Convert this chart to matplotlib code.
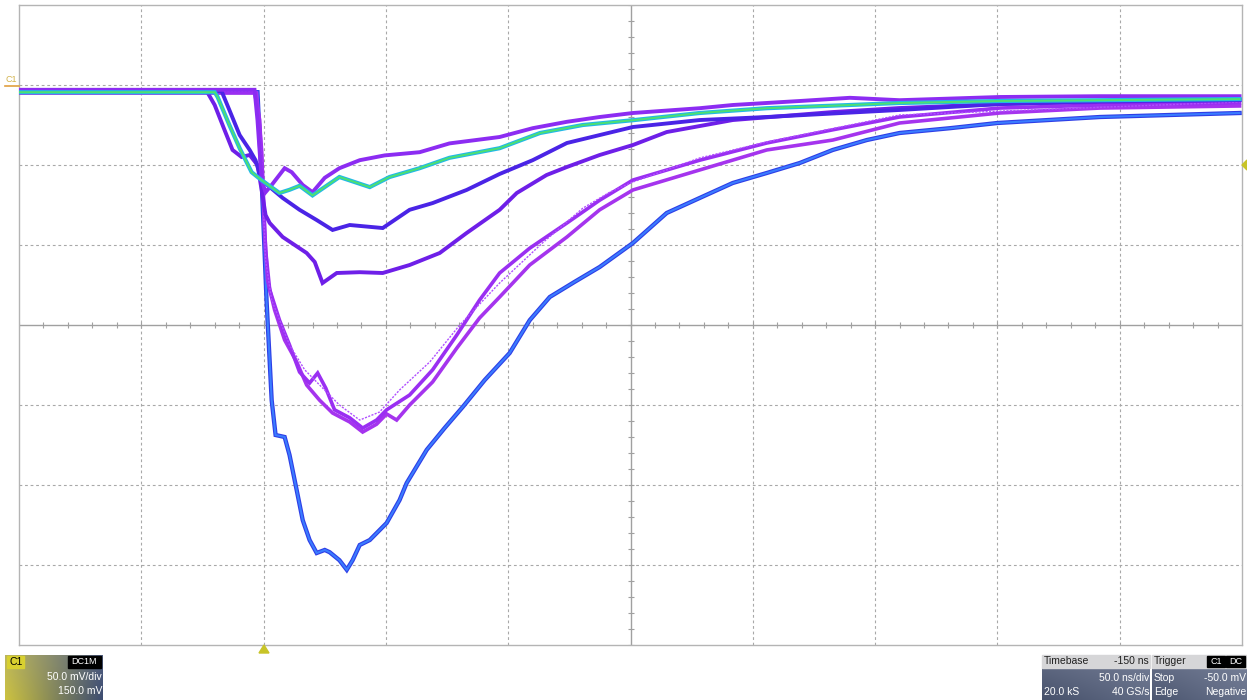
import numpy as np
import matplotlib.pyplot as plt
from matplotlib.patches import Rectangle, Polygon

plt.rcParams['font.family'] = ['Liberation Sans', 'DejaVu Sans']

# --- traces: time in ns (trigger at 0), amplitude in mV ---
t_a = [-100, -3.7, -2.5, -0.8, 0.8, 3.3, 8.6, 11.5, 16, 20, 25, 31, 39.3, 49.5, 63.8, 76, 86.3, 96.5,
       110, 124, 137.4, 151, 178.3, 191.8, 219.2, 239.7, 260, 301, 342, 399]
v_a = [-3, -3, -22, -59.5, -67, -62.5, -52, -54.5, -62.5, -67, -58, -52, -47, -44, -42, -36.5, -34.5, -32.5,
       -27, -23, -20, -17.5, -14.5, -12.5, -10, -8, -9.5, -7.5, -7, -7]

t_b = [-100, -20, -18.8, -14, -9.8, -4.9, -0.8, 6.5, 10.6, 14.7, 20, 31, 43.4, 51.5, 63.8, 76, 96.5,
       113, 130.5, 151, 178.3, 205.7, 239.7, 260, 301, 342, 399]
v_b = [-4.5, -4.5, -7.5, -25, -39.5, -54.5, -59.5, -67.5, -65.5, -63, -69, -57.5, -63.8, -57.5, -52, -45.5, -39.5,
       -30, -25, -22, -17.5, -14.5, -12.5, -11.25, -10, -9.5, -8.8]

t_c = [-100, -17.2, -14, -9.8, -5.7, -3.3, -0.8, 7.8, 14.7, 21.7, 28.2, 35.2, 48.7, 59.7, 69.1, 83, 96.5,
       110, 124, 151, 178.3, 205.7, 260, 301, 342, 399]
v_c = [-3.8, -3.8, -15.6, -31.25, -40.6, -47, -59.5, -70.6, -78, -84.4, -90.6, -87.5, -89.4, -78, -73.8, -65.6, -55.6,
       -47, -36.25, -26.25, -21.9, -20, -15.6, -11.9, -10, -9.4]

t_d = [-100, -23, -20, -16, -12.7, -9, -5.7, -2.5, -0.8, 0.8, 2.5, 7.8, 12.7, 17.6, 20.9, 24.1, 29.9, 39.3,
       48.7, 59.7, 72, 83, 96.5, 103.5, 115.7, 124, 137.4, 151, 164.8, 191.8, 232.7, 260, 301, 342, 399]
v_d = [-4.5, -4.5, -12.5, -28, -40.6, -45, -43.75, -50, -65.6, -81.25, -86.25, -95, -100, -105, -110.6, -123.75,
       -117.5, -117, -117.5, -112.5, -105, -92.5, -78, -67.5, -56.25, -51.25, -43.75, -37.5, -29.4, -21.9, -16.9,
       -14.4, -11.9, -10.6, -9.4]

t_e = [-100, -3.7, -1.6, -0.4, 0.8, 2.5, 6.5, 10.6, 14.7, 18.8, 22.1, 25.4, 29, 35.2, 40.5, 46.2, 50.3, 59.7,
       69.1, 79, 88.3, 96.5, 108.8, 124, 137.4, 151, 178.3, 205.7, 232.7, 260, 301, 342, 399]
v_e = [-4.5, -4.5, -21.9, -59.4, -103, -128, -147, -162.5, -179.4, -186.25, -180, -189.4, -203, -208, -214.4,
       -209.4, -203, -193.75, -178, -156.25, -134.4, -117.5, -102, -86.25, -72, -59.4, -47, -36.25, -28, -20,
       -14.4, -12.5, -11.25]

t_f = [-100, -2.9, -0.8, 0.4, 1.6, 4.5, 8.6, 13.5, 17.6, 22.9, 28.2, 35.2, 40.5, 46.2, 50.3, 54.4, 59.7, 69.1,
       79, 88.3, 96.5, 108.8, 124, 137.4, 151, 178.3, 205.7, 232.7, 260, 301, 342, 399]
v_f = [-5, -5, -40.6, -90.6, -122, -140.6, -159.4, -173, -187.5, -197, -205, -210.6, -216.9, -212, -205.6,
       -209.4, -200, -185.6, -164.4, -145.6, -132.5, -112.5, -95, -78, -65.6, -53.1, -40.6, -34.4, -23.75,
       -17.5, -14.4, -13.1]

t_g = [-100, -3.3, -0.8, 0.8, 3.3, 10.6, 16.8, 22.9, 31, 39.3, 47.4, 55.6, 68, 80.2, 96.5, 114, 130.5, 141.5,
       151, 178.3, 205.7, 260, 399]
v_g = [-3.8, -3.8, -47, -109.4, -134.4, -162.5, -178, -187.5, -200, -209.4, -204.4, -190.6, -173, -150,
       -123.75, -98.75, -77, -67, -60.6, -45.6, -35.6, -18.75, -10.6]

t_h = [-100, -2.5, -0.8, 1.2, 3.3, 4.9, 8.6, 10.6, 13.5, 16, 18.8, 21.7, 25, 27, 31, 34, 36.4, 39.3, 43.4,
       50.3, 55.6, 58.5, 66.7, 74, 81.4, 90.4, 100.6, 108.8, 117, 127.2, 137.4, 151, 164.8, 178.3, 191.8,
       205.7, 219.2, 232.7, 246.6, 260, 280.6, 300, 342, 399]
v_h = [-4.5, -4.5, -59.4, -134.4, -197, -218.75, -220, -231.25, -253, -272, -284.4, -292.5, -290.6, -292,
       -297, -303, -297, -287.5, -284.4, -273.75, -259.4, -248.75, -228, -214.4, -201.25, -184.4, -167.5,
       -147, -132.5, -123, -113.75, -98.75, -80, -70.6, -61.25, -55, -48.75, -40.6, -34.4, -30, -27, -23.75,
       -20, -17.5]

fig = plt.figure(figsize=(12.47, 7.0), dpi=100)
W, H = 1247.0, 700.0


def fx(x):
    return x / W


def fy(y):
    return 1 - y / H


ax = fig.add_axes([fx(19), fy(645), 1223 / W, 640 / H])
ax.set_xlim(-100, 400)
ax.set_ylim(-350, 50)

# graticule
for tx in np.arange(-50, 400, 50):
    if tx == 150:
        ax.axvline(tx, color='#a0a0a0', lw=1.0, zorder=1)
    else:
        ax.axvline(tx, color='#a8a8a8', lw=0.8, ls=(0, (2.5, 2.5)), zorder=1)
for vy in np.arange(-300, 50, 50):
    if vy == -150:
        ax.axhline(vy, color='#a0a0a0', lw=1.0, zorder=1)
    else:
        ax.axhline(vy, color='#a8a8a8', lw=0.8, ls=(0, (2.5, 2.5)), zorder=1)
tk = np.arange(-100, 401, 10)
ax.plot(tk, np.full(len(tk), -150.0), '|', color='#a0a0a0', ms=4, mew=0.8, zorder=1)
vk = np.arange(-350, 51, 10)
ax.plot(np.full(len(vk), 150.0), vk, '_', color='#a0a0a0', ms=4, mew=0.8, zorder=1)

ax.set_xticks([])
ax.set_yticks([])
for s in ax.spines.values():
    s.set_color('#b4b4b4')
    s.set_linewidth(1.0)


def trace(t, v, core, edge=None, lw=1.8, z=3):
    if edge is not None:
        ax.plot(t, v, color=edge, lw=lw + 1.6, solid_joinstyle='miter', zorder=z)
    ax.plot(t, v, color=core, lw=lw, solid_joinstyle='miter', zorder=z)


trace(t_h, v_h, '#3a7cff', edge='#2e3ee6', lw=1.5, z=3)
trace(t_f, v_f, '#a534ee', lw=2.6, z=4)
trace(t_e, v_e, '#9a2ff2', lw=2.6, z=4)
ax.plot(t_g, v_g, color='#b050ff', lw=1.0, ls=(0, (1.5, 1.0)), zorder=5)
trace(t_d, v_d, '#6e1fe8', lw=2.8, z=5)
trace(t_c, v_c, '#4a24e6', lw=2.8, z=5)
trace(t_a, v_a, '#8c2cf2', lw=2.8, z=6)
trace(t_b, v_b, '#4ee070', edge='#22b8e8', lw=1.4, z=7)

# channel marker top-left
fig.text(fx(6), fy(79), 'C1', color='#d2b24a', fontsize=6.5, va='center', ha='left')
fig.add_artist(plt.Line2D([fx(5), fx(19)], [fy(86), fy(86)], color='#e0a040', lw=1.2))

# trigger markers
fig.add_artist(Polygon([[fx(259), fy(653)], [fx(269), fy(653)], [fx(264), fy(645)]],
                       closed=True, color='#c8c428', transform=fig.transFigure))
fig.add_artist(Polygon([[fx(1247), fy(160)], [fx(1247), fy(170)], [fx(1242), fy(165)]],
                       closed=True, color='#c8c428', transform=fig.transFigure))


def gradient_box(x0, y0, x1, y1, c_left, c_right, c_top=None):
    bx = fig.add_axes([fx(x0), fy(y1), (x1 - x0) / W, (y1 - y0) / H])
    u = np.linspace(0, 1, 64)[None, :, None]
    w = np.linspace(0, 1, 32)[:, None, None]
    cl = np.array(c_left)[None, None, :]
    cr = np.array(c_right)[None, None, :]
    img = cl * (1 - u) + cr * u
    if c_top is not None:
        ct = np.array(c_top)[None, None, :]
        img = img * (0.75 + 0.25 * w) + ct * (0.25 - 0.25 * w)
    bx.imshow(np.clip(img, 0, 1), aspect='auto', extent=[0, 1, 0, 1], interpolation='bilinear')
    bx.set_xlim(0, 1)
    bx.set_ylim(0, 1)
    bx.axis('off')
    return bx


fs = 7.5
# channel box
gradient_box(5, 655, 103, 700, (0.80, 0.76, 0.25), (0.24, 0.30, 0.44), (0.55, 0.58, 0.70))
fig.add_artist(Rectangle((fx(7), fy(668)), 17 / W, 12 / H, color='#d8d030', transform=fig.transFigure, zorder=5))
fig.text(fx(9), fy(662), 'C1', color='black', fontsize=fs, va='center', ha='left', zorder=6)
fig.add_artist(Rectangle((fx(68), fy(668)), 33 / W, 12 / H, color='black', transform=fig.transFigure, zorder=5))
fig.text(fx(84), fy(662), 'DC1M', color='white', fontsize=6.5, va='center', ha='center', zorder=6)
fig.text(fx(102), fy(677), '50.0 mV/div', color='white', fontsize=fs, va='center', ha='right', zorder=6)
fig.text(fx(102), fy(691), '150.0 mV', color='white', fontsize=fs, va='center', ha='right', zorder=6)

# timebase box
gradient_box(1042, 668, 1150, 700, (0.28, 0.32, 0.42), (0.38, 0.42, 0.52), (0.60, 0.63, 0.72))
fig.add_artist(Rectangle((fx(1042), fy(668)), 108 / W, 13 / H, color='#d6d6d8', transform=fig.transFigure, zorder=5))
fig.text(fx(1044), fy(661), 'Timebase', color='#202020', fontsize=fs, va='center', ha='left', zorder=6)
fig.text(fx(1149), fy(661), '-150 ns', color='#202020', fontsize=fs, va='center', ha='right', zorder=6)
fig.text(fx(1149), fy(678), '50.0 ns/div', color='white', fontsize=fs, va='center', ha='right', zorder=6)
fig.text(fx(1044), fy(692), '20.0 kS', color='white', fontsize=fs, va='center', ha='left', zorder=6)
fig.text(fx(1149), fy(692), '40 GS/s', color='white', fontsize=fs, va='center', ha='right', zorder=6)

# trigger box
gradient_box(1152, 668, 1247, 700, (0.30, 0.34, 0.44), (0.40, 0.44, 0.54), (0.60, 0.63, 0.72))
fig.add_artist(Rectangle((fx(1152), fy(668)), 95 / W, 13 / H, color='#d6d6d8', transform=fig.transFigure, zorder=5))
fig.text(fx(1154), fy(661), 'Trigger', color='#202020', fontsize=fs, va='center', ha='left', zorder=6)
fig.add_artist(Rectangle((fx(1207), fy(667)), 18 / W, 11 / H, color='black', transform=fig.transFigure, zorder=6))
fig.text(fx(1216), fy(661.5), 'C1', color='white', fontsize=6.5, va='center', ha='center', zorder=7)
fig.add_artist(Rectangle((fx(1226), fy(667)), 19 / W, 11 / H, color='black', transform=fig.transFigure, zorder=6))
fig.text(fx(1235.5), fy(661.5), 'DC', color='white', fontsize=6.5, va='center', ha='center', zorder=7)
fig.text(fx(1154), fy(678), 'Stop', color='white', fontsize=fs, va='center', ha='left', zorder=6)
fig.text(fx(1246), fy(678), '-50.0 mV', color='white', fontsize=fs, va='center', ha='right', zorder=6)
fig.text(fx(1154), fy(692), 'Edge', color='white', fontsize=fs, va='center', ha='left', zorder=6)
fig.text(fx(1246), fy(692), 'Negative', color='white', fontsize=fs, va='center', ha='right', zorder=6)

fig.savefig('out.png', dpi=100)
